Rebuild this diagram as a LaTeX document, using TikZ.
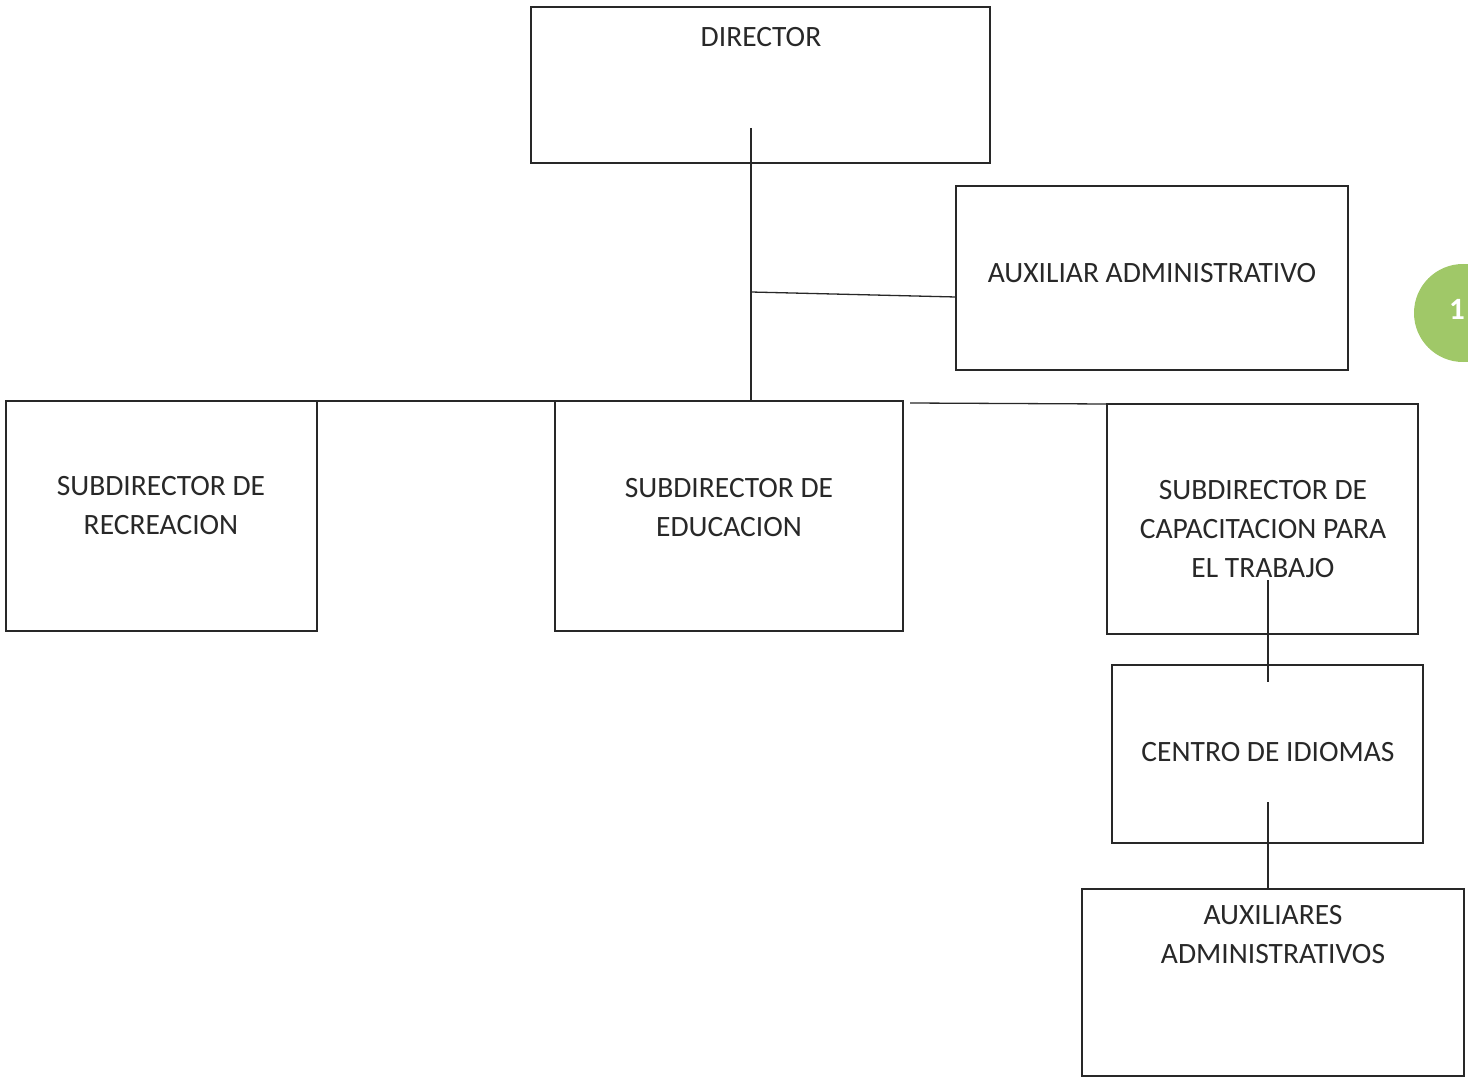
\documentclass[tikz,border=0pt]{standalone}
\usepackage{fontspec}
\setmainfont{Carlito}
\definecolor{ink}{RGB}{40,40,40}
\definecolor{leaf}{RGB}{160,200,104}
\begin{document}
\begin{tikzpicture}[x=1pt,y=-1pt,
  box/.style={draw=ink,line width=1.3pt,anchor=north west,inner sep=0pt,outer sep=0pt},
  txt/.style={font=\fontsize{29.5}{39}\selectfont,text=ink,align=center,inner sep=0pt},
  conn/.style={draw=ink,line width=1.3pt}]
\useasboundingbox (0,0) rectangle (1468,1078);
% page marker
\node[circle,fill=leaf,minimum size=98pt,inner sep=0pt] (pg) at (1463,313) {};
\node[font=\fontsize{31}{34}\selectfont\bfseries,text=white] (pgT) at (1457,309) {1};
% boxes
\node[box,minimum width=459pt,minimum height=156pt] (dir) at (531,7) {};
\node[box,minimum width=392pt,minimum height=184pt] (aux) at (956,186) {};
\node[box,minimum width=311pt,minimum height=230pt] (rec) at (6,401) {};
\node[box,minimum width=348pt,minimum height=230pt] (edu) at (555,401) {};
\node[box,minimum width=311pt,minimum height=230pt] (cap) at (1107,404) {};
\node[box,minimum width=311pt,minimum height=178pt] (idi) at (1112,665) {};
\node[box,minimum width=382pt,minimum height=187pt] (auxs) at (1082,889) {};
% texts
\node[txt] (dirT) at (761,37) {DIRECTOR};
\node[txt] (auxT) at (1152,273) {AUXILIAR ADMINISTRATIVO};
\node[txt] (recT) at (161,506) {SUBDIRECTOR DE\\RECREACION};
\node[txt] (eduT) at (729,508) {SUBDIRECTOR DE\\EDUCACION};
\node[txt] (capT) at (1263,529) {SUBDIRECTOR DE\\CAPACITACION PARA\\EL TRABAJO};
\node[txt] (idiT) at (1268,752) {CENTRO DE IDIOMAS};
\node[txt] (auxsT) at (1273,935) {AUXILIARES\\ADMINISTRATIVOS};
% junction points
\coordinate (j1) at (751,128);
\coordinate (j2) at (751,292);
\coordinate (j3) at (751,401);
\coordinate (auxIn) at (956,297);
\coordinate (gapR) at (910,403);
\coordinate (c1) at (1268,580);
\coordinate (c2) at (1268,682);
\coordinate (c3) at (1268,802);
\coordinate (c4) at (1268,889);
% connectors
\draw[conn] (j1) -- (j3);
\draw[conn] (j2) -- (auxIn);
\draw[conn] (rec.north east) -- (edu.north west);
\draw[conn] (gapR) -- (cap.north west);
\draw[conn] (c1) -- (c2);
\draw[conn] (c3) -- (c4);
\end{tikzpicture}
\end{document}
